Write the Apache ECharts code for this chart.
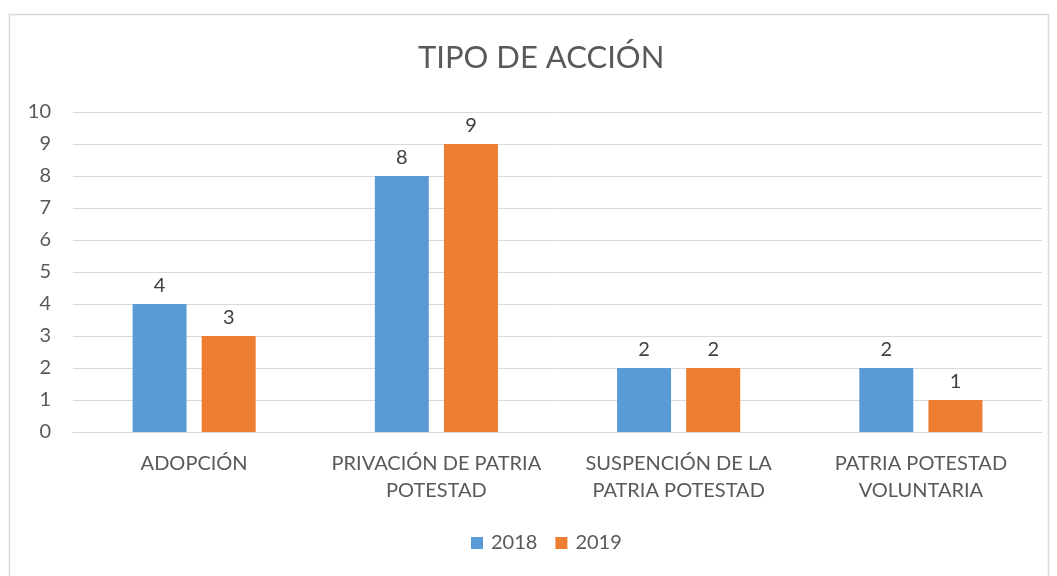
<!DOCTYPE html>
<html>
<head>
<meta charset="utf-8">
<script src="https://cdn.jsdelivr.net/npm/echarts@6/dist/echarts.min.js"></script>
<style>
  html, body { margin: 0; padding: 0; background: #fff; }
  #chart { width: 1057px; height: 576px; }
</style>
</head>
<body>
<div id="chart"></div>
<script>
const categories = [
  "ADOPCIÓN",
  "PRIVACIÓN DE PATRIA\nPOTESTAD",
  "SUSPENCIÓN DE LA\nPATRIA POTESTAD",
  "PATRIA POTESTAD\nVOLUNTARIA"
];
const values2018 = [4, 8, 2, 2];
const values2019 = [3, 9, 2, 1];
const seriesNames = ["2018", "2019"];

const textColor = "#595959";
const fontFamily = "Lato, 'Open Sans', sans-serif";

const chart = echarts.init(document.getElementById("chart"));

const barLabel = {
  show: true,
  position: "top",
  distance: 8,
  color: "#404040",
  fontSize: 20,
  fontFamily: fontFamily
};

const option = {
  animation: false,
  color: ["#5B9BD5", "#ED7D31"],
  textStyle: { fontFamily: fontFamily },
  graphic: [
    {
      type: "rect",
      shape: { x: 9.5, y: 14.5, width: 1039, height: 600 },
      style: { fill: "none", stroke: "#D9D9D9", lineWidth: 1.5 },
      silent: true
    }
  ],
  title: {
    text: "TIPO DE ACCIÓN",
    left: 413,
    top: 37,
    textStyle: {
      color: textColor,
      fontSize: 31,
      fontWeight: "normal",
      fontFamily: fontFamily
    }
  },
  legend: {
    data: seriesNames,
    bottom: 18,
    left: 466,
    itemWidth: 12,
    itemHeight: 12,
    itemGap: 18,
    icon: "rect",
    textStyle: { color: textColor, fontSize: 20, fontFamily: fontFamily, padding: [0, 0, 0, 3] }
  },
  grid: {
    left: 73,
    right: 15,
    top: 112,
    bottom: 144,
    containLabel: false
  },
  xAxis: {
    type: "category",
    data: categories,
    axisLine: { show: true, lineStyle: { color: "#D9D9D9", width: 1 } },
    axisTick: { show: false },
    axisLabel: {
      color: textColor,
      fontSize: 20,
      lineHeight: 27,
      margin: 18,
      interval: 0,
      fontFamily: fontFamily
    }
  },
  yAxis: {
    type: "value",
    min: 0,
    max: 10,
    interval: 1,
    axisLine: { show: false },
    axisTick: { show: false },
    axisLabel: {
      color: textColor,
      fontSize: 20,
      margin: 22,
      fontFamily: fontFamily
    },
    splitLine: { lineStyle: { color: "#D9D9D9", width: 1 } }
  },
  series: [
    {
      name: seriesNames[0],
      type: "bar",
      data: values2018,
      barWidth: 54,
      barGap: "28%",
      label: barLabel
    },
    {
      name: seriesNames[1],
      type: "bar",
      data: values2019,
      barWidth: 54,
      barGap: "28%",
      label: barLabel
    }
  ]
};

chart.setOption(option);
</script>
</body>
</html>
